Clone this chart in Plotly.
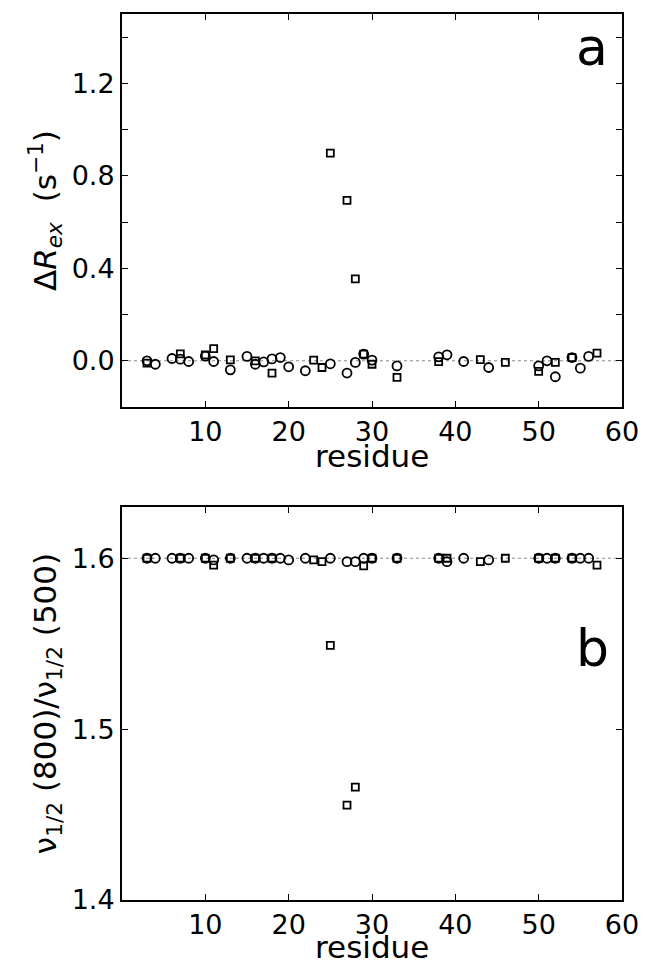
import plotly.graph_objects as go
from plotly.subplots import make_subplots

# Panel a: Delta R_ex
a_circ_res = [3, 4, 6, 7, 8, 10, 11, 13, 15, 16, 17, 18, 19, 20, 22, 25, 27, 28, 29, 30,
              33, 38, 39, 41, 44, 50, 51, 52, 54, 55, 56]
a_circ_val = [0.0, -0.015, 0.01, 0.007, -0.003, 0.02, -0.003, -0.039, 0.019, -0.015, -0.005,
              0.008, 0.014, -0.026, -0.043, -0.013, -0.053, -0.007, 0.029, 0.003,
              -0.022, 0.017, 0.026, -0.003, -0.029, -0.022, 0.0, -0.069, 0.014, -0.032, 0.019]
a_sq_res = [3, 7, 10, 11, 13, 16, 18, 23, 24, 25, 27, 28, 29, 30, 33, 38, 43, 46, 50, 52, 54, 57]
a_sq_val = [-0.01, 0.03, 0.025, 0.053, 0.004, 0.0, -0.053, 0.003, -0.029, 0.898, 0.694, 0.354,
            0.029, -0.015, -0.072, -0.004, 0.005, -0.007, -0.046, -0.007, 0.014, 0.033]

# Panel b: linewidth ratio
b_circ_res = [3, 4, 6, 7, 8, 10, 11, 13, 15, 16, 17, 18, 19, 20, 22, 25, 27, 28, 29, 30,
              33, 38, 39, 41, 44, 50, 51, 52, 54, 55, 56]
b_circ_val = [1.6, 1.6, 1.6, 1.6, 1.6, 1.6, 1.599, 1.6, 1.6, 1.6, 1.6, 1.6, 1.6, 1.599, 1.6,
              1.6, 1.598, 1.598, 1.6, 1.6, 1.6, 1.6, 1.598, 1.6, 1.599, 1.6, 1.6, 1.6, 1.6,
              1.6, 1.6]
b_sq_res = [3, 7, 10, 11, 13, 16, 18, 23, 24, 25, 27, 28, 29, 30, 33, 38, 39, 43, 46, 50, 52, 54, 57]
b_sq_val = [1.6, 1.6, 1.6, 1.596, 1.6, 1.6, 1.6, 1.599, 1.598, 1.549, 1.4555, 1.466, 1.5955,
            1.6, 1.6, 1.6, 1.6, 1.598, 1.6, 1.6, 1.6, 1.6, 1.596]

a_yticks = [-0.2, 0.0, 0.2, 0.4, 0.6, 0.8, 1.0, 1.2, 1.4]
a_yticktext = ["", "0.0", "", "0.4", "", "0.8", "", "1.2", ""]
b_yticks = [1.4, 1.5, 1.6]
b_yticktext = ["1.4", "1.5", "1.6"]
x_ticks = [10, 20, 30, 40, 50, 60]

FONT = "DejaVu Sans"

fig = make_subplots(rows=2, cols=1, vertical_spacing=0.1128)

circ = dict(symbol="circle-open", size=9, color="black", line=dict(width=1.8))
sq = dict(symbol="square-open", size=7, color="black", line=dict(width=1.8))

fig.add_trace(go.Scatter(x=a_circ_res, y=a_circ_val, mode="markers", marker=circ, showlegend=False), row=1, col=1)
fig.add_trace(go.Scatter(x=a_sq_res, y=a_sq_val, mode="markers", marker=sq, showlegend=False), row=1, col=1)
fig.add_trace(go.Scatter(x=b_circ_res, y=b_circ_val, mode="markers", marker=circ, showlegend=False), row=2, col=1)
fig.add_trace(go.Scatter(x=b_sq_res, y=b_sq_val, mode="markers", marker=sq, showlegend=False), row=2, col=1)

# reference dotted lines
fig.add_shape(type="line", xref="x domain", yref="y", x0=0, x1=1, y0=0, y1=0,
              line=dict(color="#888888", width=1, dash="dot"), layer="below")
fig.add_shape(type="line", xref="x2 domain", yref="y2", x0=0, x1=1, y0=1.6, y1=1.6,
              line=dict(color="#888888", width=1, dash="dot"), layer="below")

axis_common = dict(showline=True, linecolor="black", linewidth=2, mirror="ticks",
                   ticks="inside", ticklen=6, tickwidth=1, tickcolor="black",
                   showgrid=False, zeroline=False, automargin=False,
                   tickfont=dict(family=FONT, size=27, color="black"))

for r in (1, 2):
    fig.update_xaxes(range=[0, 60], tickvals=x_ticks, ticktext=[str(v) for v in x_ticks],
                     row=r, col=1, **axis_common)

fig.update_yaxes(range=[-0.2, 1.5], tickvals=a_yticks, ticktext=a_yticktext,
                 title=dict(text="Δ<i>R</i><sub><i>ex</i></sub>  (s<sup>−1</sup>)",
                            font=dict(family=FONT, size=31, color="black"), standoff=6),
                 row=1, col=1, **axis_common)
fig.update_yaxes(range=[1.4, 1.63], tickvals=b_yticks, ticktext=b_yticktext,
                 title=dict(text="ν<sub>1/2</sub> (800)/ν<sub>1/2</sub> (500)",
                            font=dict(family=FONT, size=31, color="black"), standoff=6),
                 row=2, col=1, **axis_common)

# x-axis titles as annotations
for xr, ypos in (("x domain", 0.5006), ("x2 domain", -0.0530)):
    fig.add_annotation(text="residue", xref=xr, yref="paper", x=0.5, y=ypos,
                       showarrow=False, font=dict(family=FONT, size=31, color="black"),
                       xanchor="center", yanchor="middle")

fig.add_annotation(text="a", xref="x domain", yref="y domain", x=0.94, y=0.916,
                   showarrow=False, font=dict(family=FONT, size=52, color="black"),
                   xanchor="center", yanchor="middle")
fig.add_annotation(text="b", xref="x2 domain", yref="y2 domain", x=0.94, y=0.641,
                   showarrow=False, font=dict(family=FONT, size=52, color="black"),
                   xanchor="center", yanchor="middle")

fig.update_layout(width=645, height=965, margin=dict(l=122, r=23, t=14, b=65),
                  paper_bgcolor="white", plot_bgcolor="white",
                  font=dict(family=FONT, color="black"))
fig.update_layout(yaxis=dict(domain=[0.5564, 1.0]), yaxis2=dict(domain=[0.0, 0.4436]))

fig.write_html("out.html")
